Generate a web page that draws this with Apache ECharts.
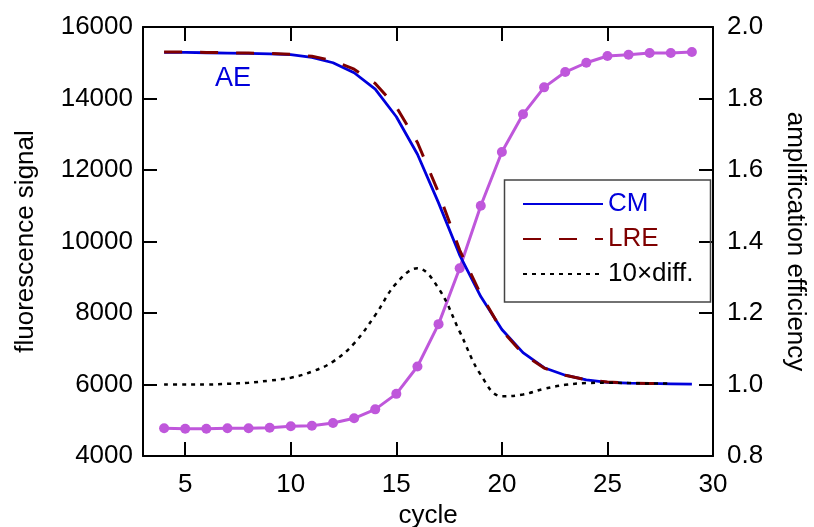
<!DOCTYPE html>
<html>
<head>
<meta charset="utf-8">
<script src="https://cdn.jsdelivr.net/npm/echarts@6/dist/echarts.min.js"></script>
<style>html,body{margin:0;padding:0;background:#fff}#chart{width:814px;height:527px}</style>
</head>
<body>
<div id="chart"></div>
<script>
// ---- data ----
const cycles = [4,5,6,7,8,9,10,11,12,13,14,15,16,17,18,19,20,21,22,23,24,25,26,27,28,29];
const fluorescence = [4775,4764,4764,4775,4775,4792,4830,4848,4923,5054,5305,5738,6503,7688,9250,11000,12503,13557,14312,14740,15000,15188,15225,15272,15272,15300];
const cmEff = [1.929,1.929,1.928,1.927,1.926,1.925,1.923,1.915,1.900,1.872,1.826,1.749,1.644,1.508,1.362,1.246,1.154,1.089,1.047,1.026,1.013,1.006,1.004,1.003,1.002,1.001];
const lreCycles = [4,5,6,7,8,9,10,11,12,13,14,15,16,17,18,19,20,21,22,23,24,25,26,27,28];
const lreEff = [1.930,1.930,1.929,1.928,1.927,1.926,1.924,1.918,1.906,1.882,1.842,1.776,1.677,1.537,1.376,1.252,1.151,1.086,1.046,1.026,1.013,1.007,1.004,1.003,1.002];
const diff10 = [1.000,1.000,1.000,1.002,1.005,1.011,1.019,1.036,1.064,1.115,1.194,1.283,1.325,1.269,1.148,1.027,0.967,0.972,0.988,0.999,1.004,1.005,1.004,1.003,1.003];
const xTicks = [5,10,15,20,25,30];
const seriesNames = ['CM','LRE','10\u00d7diff.'];

// ---- chart ----
const FONT = 'Liberation Sans, Arial, Helvetica, sans-serif';
const BLUE = '#0000dc', MAROON = '#7f0000', PURPLE = '#bf57db';
const pairs = (xs, ys) => ys.map((v, i) => [xs[i], v]);
const tickStyle = {show: true, inside: true, length: 14, lineStyle: {color: '#000', width: 2}};
const lineStyle = {lineStyle: {color: '#000', width: 2}};
const labelStyle = {fontSize: 26, color: '#000', fontFamily: FONT};

const chart = echarts.init(document.getElementById('chart'), null, {renderer: 'canvas'});
chart.setOption({
  animation: false,
  backgroundColor: '#fff',
  textStyle: {fontFamily: FONT},
  grid: {left: 143, right: 101, top: 27, bottom: 71, containLabel: false, outerBoundsMode: 'none'},
  xAxis: [
    {type: 'value', position: 'bottom', min: 3, max: 30,
     axisLine: Object.assign({onZero: false}, lineStyle),
     axisTick: Object.assign({customValues: xTicks}, tickStyle),
     axisLabel: Object.assign({customValues: xTicks, margin: 16}, labelStyle),
     splitLine: {show: false},
     name: 'cycle', nameLocation: 'middle', nameGap: 47,
     nameTextStyle: {fontSize: 26, color: '#000', fontFamily: FONT}},
    {type: 'value', position: 'top', min: 3, max: 30,
     axisLine: Object.assign({onZero: false}, lineStyle),
     axisTick: Object.assign({customValues: xTicks}, tickStyle),
     axisLabel: {show: false},
     splitLine: {show: false}}
  ],
  yAxis: [
    {type: 'value', position: 'left', min: 4000, max: 16000, interval: 2000,
     axisLine: Object.assign({show: true, onZero: false}, lineStyle),
     axisTick: tickStyle,
     axisLabel: Object.assign({margin: 10, formatter: v => String(v)}, labelStyle),
     splitLine: {show: false},
     name: 'fluorescence signal', nameLocation: 'middle', nameGap: 104, nameRotate: 90,
     nameTextStyle: {fontSize: 26, color: '#000', fontFamily: FONT}},
    {type: 'value', position: 'right', min: 0.8, max: 2.0, interval: 0.2,
     axisLine: Object.assign({show: true, onZero: false}, lineStyle),
     axisTick: tickStyle,
     axisLabel: Object.assign({margin: 14, formatter: v => v.toFixed(1)}, labelStyle),
     splitLine: {show: false},
     name: 'amplification efficiency', nameLocation: 'middle', nameGap: 69, nameRotate: -90,
     nameTextStyle: {fontSize: 26, color: '#000', fontFamily: FONT}}
  ],
  legend: {
    data: [
      {name: seriesNames[0], textStyle: {color: BLUE}},
      {name: seriesNames[1], textStyle: {color: MAROON}},
      {name: seriesNames[2], textStyle: {color: '#000'}}
    ],
    orient: 'vertical', left: 522, top: 191, padding: 0,
    itemWidth: 80, itemHeight: 14, itemGap: 9,
    selectedMode: false,
    itemStyle: {color: 'rgba(0,0,0,0)', borderWidth: 0, opacity: 0},
    textStyle: {fontSize: 26, lineHeight: 26, fontFamily: FONT}
  },
  graphic: [
    {type: 'rect', shape: {x: 504.5, y: 180, width: 206, height: 122},
     style: {fill: 'none', stroke: '#444', lineWidth: 1.5}, z: 10},
    {type: 'text', x: 233, y: 79,
     style: {text: 'AE', fontSize: 27, fontFamily: FONT, fill: BLUE, align: 'center', verticalAlign: 'middle'}}
  ],
  series: [
    {name: 'fluorescence', type: 'line', xAxisIndex: 0, yAxisIndex: 0,
     data: pairs(cycles, fluorescence), symbol: 'circle', symbolSize: 10,
     lineStyle: {color: PURPLE, width: 3}, itemStyle: {color: PURPLE}, z: 2},
    {name: seriesNames[0], type: 'line', xAxisIndex: 0, yAxisIndex: 1,
     data: pairs(cycles, cmEff), symbol: 'none',
     lineStyle: {color: BLUE, width: 2.8}, itemStyle: {color: BLUE}, z: 3},
    {name: seriesNames[1], type: 'line', xAxisIndex: 0, yAxisIndex: 1,
     data: pairs(lreCycles, lreEff), symbol: 'none',
     lineStyle: {color: MAROON, width: 3, type: [18, 18]}, itemStyle: {color: MAROON}, z: 4},
    {name: seriesNames[2], type: 'line', xAxisIndex: 0, yAxisIndex: 1,
     data: pairs(lreCycles, diff10), symbol: 'none', smooth: 0.4,
     lineStyle: {color: '#000', width: 2.5, type: [4, 5]}, itemStyle: {color: '#000'}, z: 5}
  ]
});
</script>
</body>
</html>
